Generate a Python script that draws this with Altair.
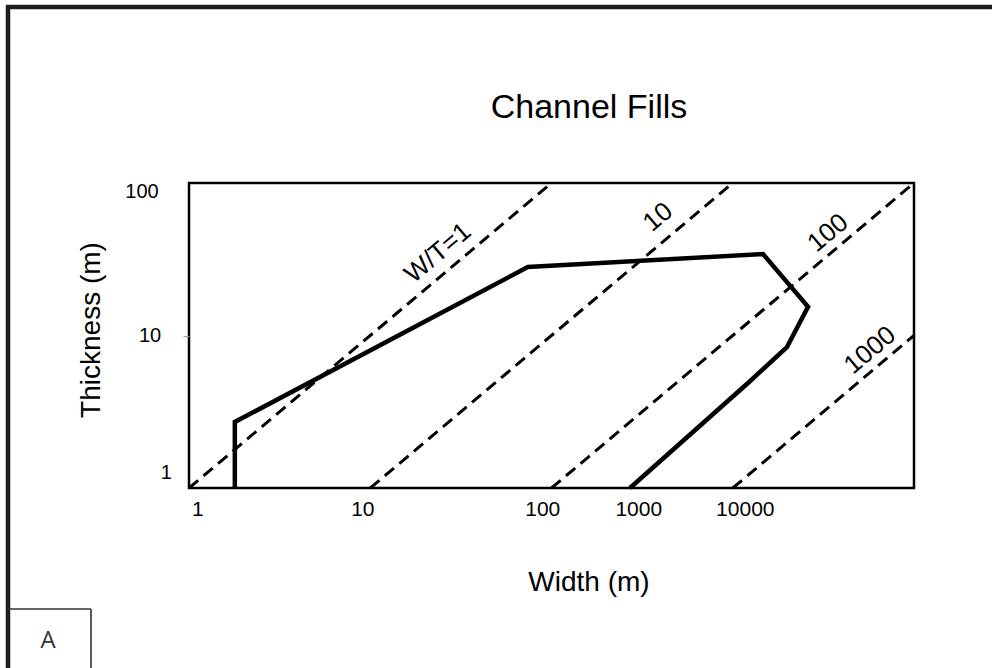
import altair as alt
import pandas as pd

# ---- data ----
# outline of the channel-fill field (width W, thickness T, in m)
fill_width = [1.79, 1.79, 74, 1469, 2603, 1991, 1214, 271]
fill_thick = [1.0, 2.71, 28.1, 34.2, 15.4, 8.4, 4.88, 1.0]

# width/thickness reference ratios (dashed lines)
ratios = [1, 10, 100, 1000]
ratio_text = ["W/T=1", "10", "100", "1000"]
ratio_label_w = [23.6, 387, 3354, 5718]
ratio_label_t = [34.8, 59.8, 47, 8.0]

# tick labels as printed in the figure (and where they sit, in data units)
x_tick_text = ["1", "10", "100", "1000", "10000"]
x_tick_at = [1.12, 9.1, 89.5, 303, 1173]
y_tick_text = ["100", "10", "1"]
y_tick_at = [87, 9.9, 1.25]
y_tick_w = [0.55, 0.61, 0.75]

W_MIN, W_MAX = 1, 10000
T_MIN, T_MAX = 1, 100

FONT = "Liberation Sans"

xs = alt.Scale(type="log", domain=[W_MIN, W_MAX], nice=False)
ys = alt.Scale(type="log", domain=[T_MIN, T_MAX], nice=False)
y_axis = alt.Axis(values=[10], labels=False, domain=False, ticks=True, tickSize=6,
                  tickColor="#9a9a9a", tickWidth=1, grid=False, title=None)

# dashed W/T lines
rows = []
for k in ratios:
    rows.append({"ratio": k, "W": k, "T": 1})
    rows.append({"ratio": k, "W": min(W_MAX, k * T_MAX), "T": min(T_MAX, W_MAX / k)})
ratio_df = pd.DataFrame(rows)

dashed = alt.Chart(ratio_df).mark_line(color="black", strokeWidth=3, strokeDash=[12, 7]).encode(
    x=alt.X("W:Q", scale=xs, axis=None),
    y=alt.Y("T:Q", scale=ys, axis=y_axis),
    detail="ratio:N",
)

fill_df = pd.DataFrame({"W": fill_width, "T": fill_thick, "i": list(range(len(fill_width)))})
outline = alt.Chart(fill_df).mark_line(color="black", strokeWidth=4.5, strokeJoin="miter").encode(
    x=alt.X("W:Q", scale=xs, axis=None),
    y=alt.Y("T:Q", scale=ys, axis=y_axis),
    order="i:Q",
)

lab_df = pd.DataFrame({"W": ratio_label_w, "T": ratio_label_t, "txt": ratio_text})
ratio_labels = alt.Chart(lab_df).mark_text(font=FONT, fontSize=26, angle=320, align="center",
                                           baseline="middle", color="black").encode(
    x=alt.X("W:Q", scale=xs, axis=None),
    y=alt.Y("T:Q", scale=ys, axis=y_axis),
    text="txt:N",
)

xt_df = pd.DataFrame({"W": x_tick_at, "T": [0.72] * len(x_tick_at), "txt": x_tick_text})
x_ticks = alt.Chart(xt_df).mark_text(font=FONT, fontSize=21, align="center", baseline="middle",
                                     color="black").encode(
    x=alt.X("W:Q", scale=xs, axis=None),
    y=alt.Y("T:Q", scale=ys, axis=y_axis),
    text="txt:N",
)

yt_df = pd.DataFrame({"W": y_tick_w, "T": y_tick_at, "txt": y_tick_text})
y_ticks = alt.Chart(yt_df).mark_text(font=FONT, fontSize=20, align="center", baseline="middle",
                                     color="black").encode(
    x=alt.X("W:Q", scale=xs, axis=None),
    y=alt.Y("T:Q", scale=ys, axis=y_axis),
    text="txt:N",
)

def label(txt, x, y, size, angle=0, font=FONT, color="black"):
    return alt.Chart(pd.DataFrame({"t": [txt]})).mark_text(
        font=font, fontSize=size, angle=angle, align="center", baseline="middle", color=color
    ).encode(text="t:N", x=alt.value(x), y=alt.value(y))

title = label("Channel Fills", 400, -75, 34)
xtitle = label("Width (m)", 400, 400, 28)
ytitle = label("Thickness (m)", -97, 147, 28, angle=270)
panel_letter = label("A", -141, 458, 24, font="Open Sans", color="#333333")

def rule(x, x2, y, y2, color, width):
    return alt.Chart(pd.DataFrame({"a": [0]})).mark_rule(color=color, strokeWidth=width).encode(
        x=alt.value(x), x2=alt.value(x2), y=alt.value(y), y2=alt.value(y2)
    )

frame_top = rule(-183, 803, -176, -176, "#1e1e1e", 4.5)
frame_left = rule(-181, -181, -178, 485, "#1e1e1e", 4.5)
box_top = rule(-181, -98, 426, 426, "#333333", 1.6)
box_right = rule(-98, -98, 426, 485, "#333333", 1.6)

chart = alt.layer(
    dashed, outline, ratio_labels, x_ticks, y_ticks,
    title, xtitle, ytitle, panel_letter,
    frame_top, frame_left, box_top, box_right,
).properties(
    width=725, height=305,
    autosize=alt.AutoSizeParams(type="none"),
    padding={"left": 189, "top": 183, "right": 78, "bottom": 180},
    background="white",
).configure_view(
    stroke="black", strokeWidth=2.5
)

chart.save("out.html", embed_options={"renderer": "svg", "actions": False})
